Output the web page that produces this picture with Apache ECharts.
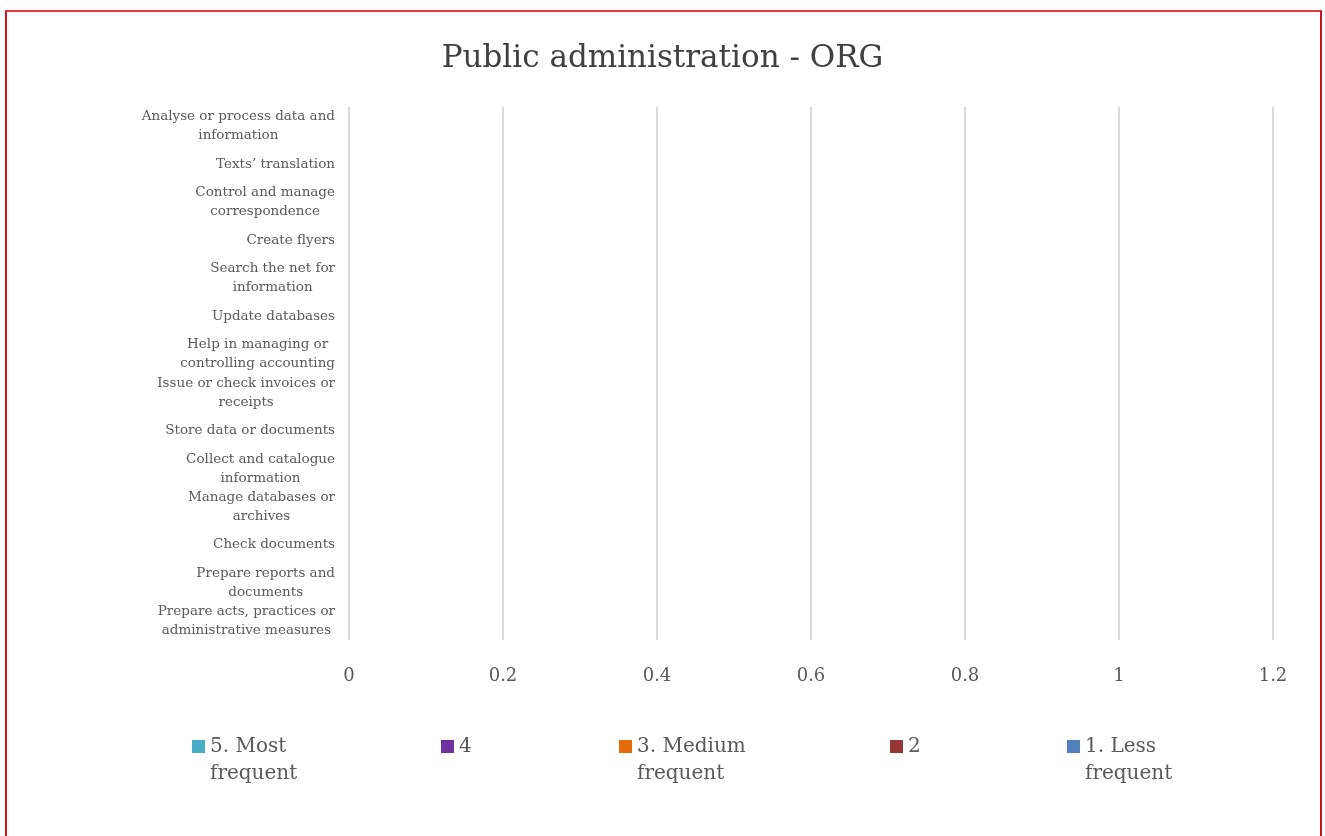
<!DOCTYPE html>
<html>

<head>
    <meta charset="utf-8">
    <title>Public administration - ORG</title>
    <script src="https://cdn.jsdelivr.net/npm/echarts@6/dist/echarts.min.js"></script>
    <style>
        body { margin: 0; background: #fff; }
        #frame {
            position: absolute; left: 5px; top: 10px; width: 1313px; height: 900px;
            border-left: 2px solid #d4161c; border-top: 2px solid #e03a3e; border-right: 2px solid #c8141a;
        }
        #main { position: absolute; left: 0; top: 0; width: 1325px; height: 836px; }
    </style>
</head>

<body>
    <div id="frame"></div>
    <div id="main"></div>
    <script type="text/javascript">
        // categories, top to bottom as in the picture
        var tasks = [
            'Analyse or process data and\ninformation',
            'Texts\u2019 translation',
            'Control and manage\ncorrespondence',
            'Create flyers',
            'Search the net for\ninformation',
            'Update databases',
            'Help in managing or\ncontrolling accounting',
            'Issue or check invoices or\nreceipts',
            'Store data or documents',
            'Collect and catalogue\ninformation',
            'Manage databases or\narchives',
            'Check documents',
            'Prepare reports and\ndocuments',
            'Prepare acts, practices or\nadministrative measures'
        ];

        // no bars are visible in the picture: every value reads as 0
        var lessFrequent = [0, 0, 0, 0, 0, 0, 0, 0, 0, 0, 0, 0, 0, 0];
        var freq2 = [0, 0, 0, 0, 0, 0, 0, 0, 0, 0, 0, 0, 0, 0];
        var mediumFrequent = [0, 0, 0, 0, 0, 0, 0, 0, 0, 0, 0, 0, 0, 0];
        var freq4 = [0, 0, 0, 0, 0, 0, 0, 0, 0, 0, 0, 0, 0, 0];
        var mostFrequent = [0, 0, 0, 0, 0, 0, 0, 0, 0, 0, 0, 0, 0, 0];

        var seriesNames = ['1. Less frequent', '2', '3. Medium frequent', '4', '5. Most frequent'];
        var seriesData = [lessFrequent, freq2, mediumFrequent, freq4, mostFrequent];
        var colors = ['#4f81bd', '#953735', '#e46c0a', '#7030a0', '#4bacc6'];

        // wrapped legend labels, as drawn in the picture
        var legendLabels = {
            '5. Most frequent': '5. Most\nfrequent',
            '4': '4',
            '3. Medium frequent': '3. Medium\nfrequent',
            '2': '2',
            '1. Less frequent': '1. Less\nfrequent'
        };
        var legendOrder = ['5. Most frequent', '4', '3. Medium frequent', '2', '1. Less frequent'];
        var legendLeft = [192, 441, 619, 890, 1067];

        var font = 'DejaVu Serif';
        var myChart = echarts.init(document.getElementById('main'));

        var legends = legendOrder.map(function (name, i) {
            var twoLines = legendLabels[name].indexOf('\n') >= 0;
            return {
                data: [name],
                left: legendLeft[i],
                top: twoLines ? 706 : 733,
                padding: 0,
                icon: 'rect',
                itemWidth: 13,
                itemHeight: 13,
                itemGap: 6,
                // a blank first line keeps the marker level with the first text line
                formatter: function (n) {
                    var t = legendLabels[n];
                    return t.indexOf('\n') >= 0 ? ' \n' + t : t;
                },
                textStyle: {
                    fontFamily: font,
                    fontSize: 20,
                    color: '#595959',
                    lineHeight: 27
                }
            };
        });

        var option = {
            animation: false,
            color: colors,
            title: {
                text: 'Public administration - ORG',
                left: 'center',
                top: 38,
                textStyle: {
                    fontFamily: font,
                    fontSize: 31,
                    fontWeight: 'normal',
                    color: '#404040'
                }
            },
            legend: legends,
            grid: {
                left: 349,
                right: 52,
                top: 107,
                bottom: 196,
                containLabel: false
            },
            xAxis: {
                type: 'value',
                min: 0,
                max: 1.2,
                interval: 0.2,
                axisLine: { show: false },
                axisTick: { show: false },
                axisLabel: {
                    fontFamily: font,
                    fontSize: 18,
                    color: '#595959',
                    margin: 27
                },
                splitLine: {
                    lineStyle: { color: '#d9d9d9', width: 2 }
                }
            },
            yAxis: {
                type: 'category',
                inverse: true,
                data: tasks,
                axisLine: { show: false },
                axisTick: { show: false },
                splitLine: { show: false },
                axisLabel: {
                    margin: 14,
                    interval: 0,
                    formatter: function (v) {
                        return v.split('\n').map(function (s) { return '{c|' + s + '}'; }).join('\n');
                    },
                    rich: {
                        c: {
                            align: 'center',
                            fontFamily: font,
                            fontSize: 13.5,
                            color: '#595959',
                            lineHeight: 19
                        }
                    }
                }
            },
            series: seriesData.map(function (d, i) {
                return {
                    name: seriesNames[i],
                    type: 'bar',
                    stack: 'total',
                    barWidth: '60%',
                    data: d
                };
            })
        };

        myChart.setOption(option);
    </script>
</body>

</html>
